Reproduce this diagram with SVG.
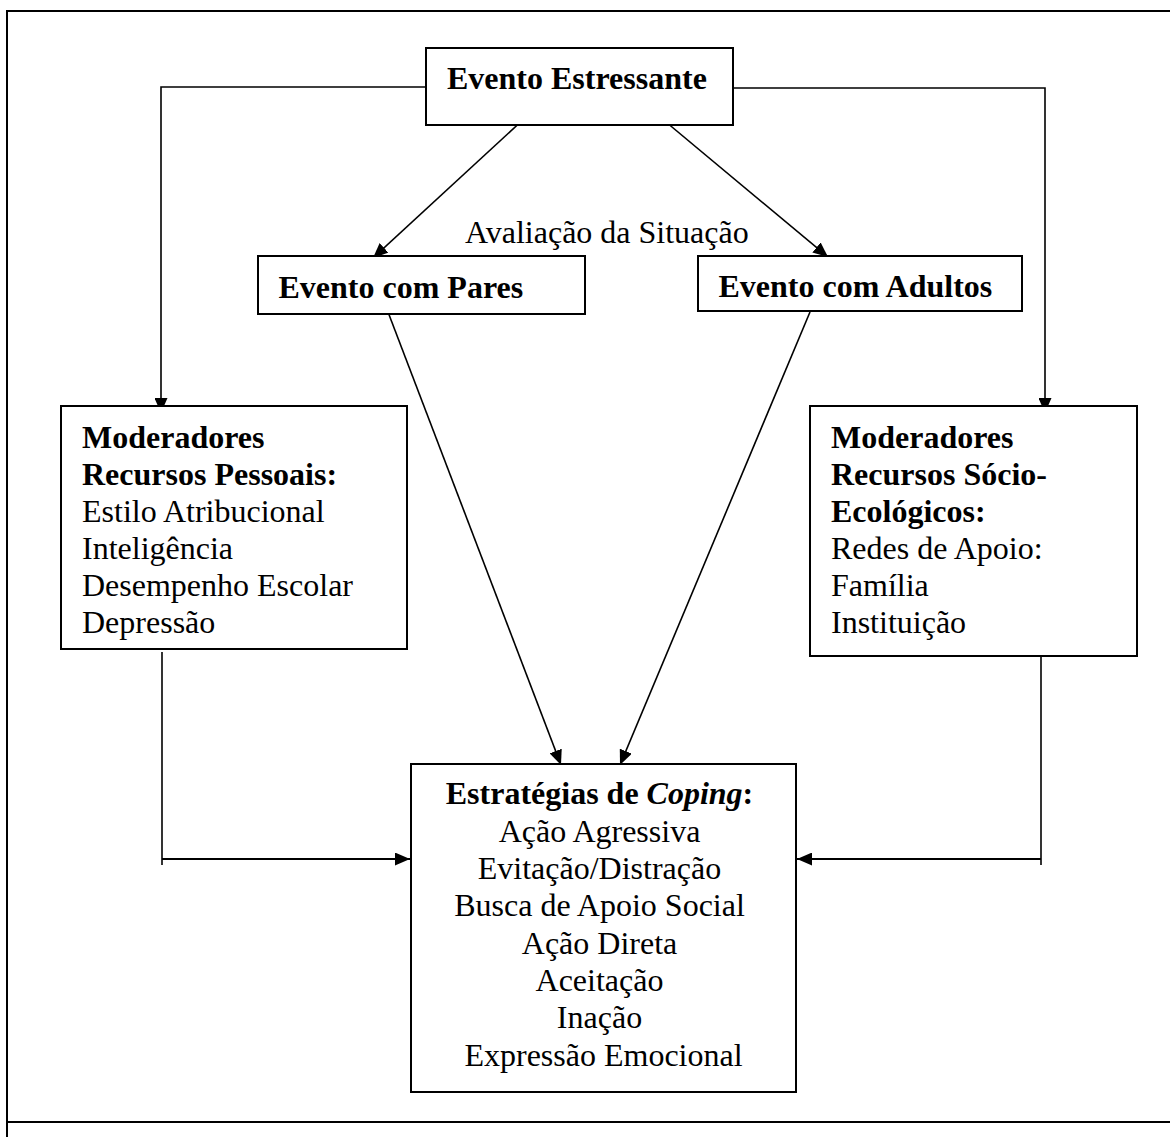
<svg xmlns="http://www.w3.org/2000/svg" width="1170" height="1137" viewBox="0 0 1170 1137">
<defs>
<marker id="arr" markerUnits="userSpaceOnUse" markerWidth="15" markerHeight="13" refX="15" refY="6.5" orient="auto">
<path d="M0,0 L15,6.5 L0,13 z" fill="#000"/>
</marker>
<style>
.box{fill:#fff;stroke:#000;stroke-width:2}
.ln{fill:none;stroke:#000;stroke-width:1.6}
.t{font-family:"Liberation Serif","Times New Roman",serif;font-size:32px;fill:#000}
.b{font-weight:bold}
</style>
</defs>
<rect width="1170" height="1137" fill="#fff"/>
<g id="frame" class="ln" stroke-width="2">
<path d="M7,1137 V11 H1170" style="stroke-width:2"/>
<path d="M7,1122 H1170" style="stroke-width:2"/>
</g>
<g id="connectors">
<path class="ln" d="M426,87 H161 V413" marker-end="url(#arr)"/>
<path class="ln" d="M733,88 H1045 V413" marker-end="url(#arr)"/>
<path class="ln" d="M526,117 L373,258" marker-end="url(#arr)"/>
<path class="ln" d="M660,117 L828,257" marker-end="url(#arr)"/>
<path class="ln" d="M388,312 L561,765" marker-end="url(#arr)"/>
<path class="ln" d="M810,312 L620,765" marker-end="url(#arr)"/>
<path class="ln" d="M162,652 V865"/>
<path class="ln" d="M162,859 H410" marker-end="url(#arr)" style="stroke-width:2.2"/>
<path class="ln" d="M1041,652 V865"/>
<path class="ln" d="M1041,859 H797" marker-end="url(#arr)" style="stroke-width:2.2"/>
</g>
<g id="evento-estressante">
<rect class="box" x="426" y="48" width="307" height="77"/>
<text class="t b" x="447" y="89">Evento Estressante</text>
</g>
<text id="avaliacao" class="t" x="465" y="243">Avaliação da Situação</text>
<g id="evento-pares">
<rect class="box" x="258" y="256" width="327" height="58"/>
<text class="t b" x="278.5" y="298">Evento com Pares</text>
</g>
<g id="evento-adultos">
<rect class="box" x="698" y="256" width="324" height="55"/>
<text class="t b" x="718.5" y="297">Evento com Adultos</text>
</g>
<g id="moderadores-pessoais">
<rect class="box" x="61" y="406" width="346" height="243"/>
<text class="t" x="82">
<tspan class="b" x="82" y="448">Moderadores</tspan>
<tspan class="b" x="82" y="485">Recursos Pessoais:</tspan>
<tspan x="82" y="522">Estilo Atribucional</tspan>
<tspan x="82" y="559">Inteligência</tspan>
<tspan x="82" y="596">Desempenho Escolar</tspan>
<tspan x="82" y="633">Depressão</tspan>
</text>
</g>
<g id="moderadores-socio">
<rect class="box" x="810" y="406" width="327" height="250"/>
<text class="t" x="831">
<tspan class="b" x="831" y="448">Moderadores</tspan>
<tspan class="b" x="831" y="485">Recursos Sócio-</tspan>
<tspan class="b" x="831" y="522">Ecológicos:</tspan>
<tspan x="831" y="559">Redes de Apoio:</tspan>
<tspan x="831" y="596">Família</tspan>
<tspan x="831" y="633">Instituição</tspan>
</text>
</g>
<g id="estrategias-coping">
<rect class="box" x="411" y="764" width="385" height="328"/>
<text class="t" text-anchor="middle">
<tspan class="b" x="603.5" y="804">Estratégias de <tspan font-style="italic">Coping</tspan>:</tspan>
<tspan x="603.5" y="842">Ação Agressiva</tspan>
<tspan x="603.5" y="879">Evitação/Distração</tspan>
<tspan x="603.5" y="916">Busca de Apoio Social</tspan>
<tspan x="603.5" y="954">Ação Direta</tspan>
<tspan x="603.5" y="991">Aceitação</tspan>
<tspan x="603.5" y="1028">Inação</tspan>
<tspan x="603.5" y="1066">Expressão Emocional</tspan>
</text>
</g>
</svg>
